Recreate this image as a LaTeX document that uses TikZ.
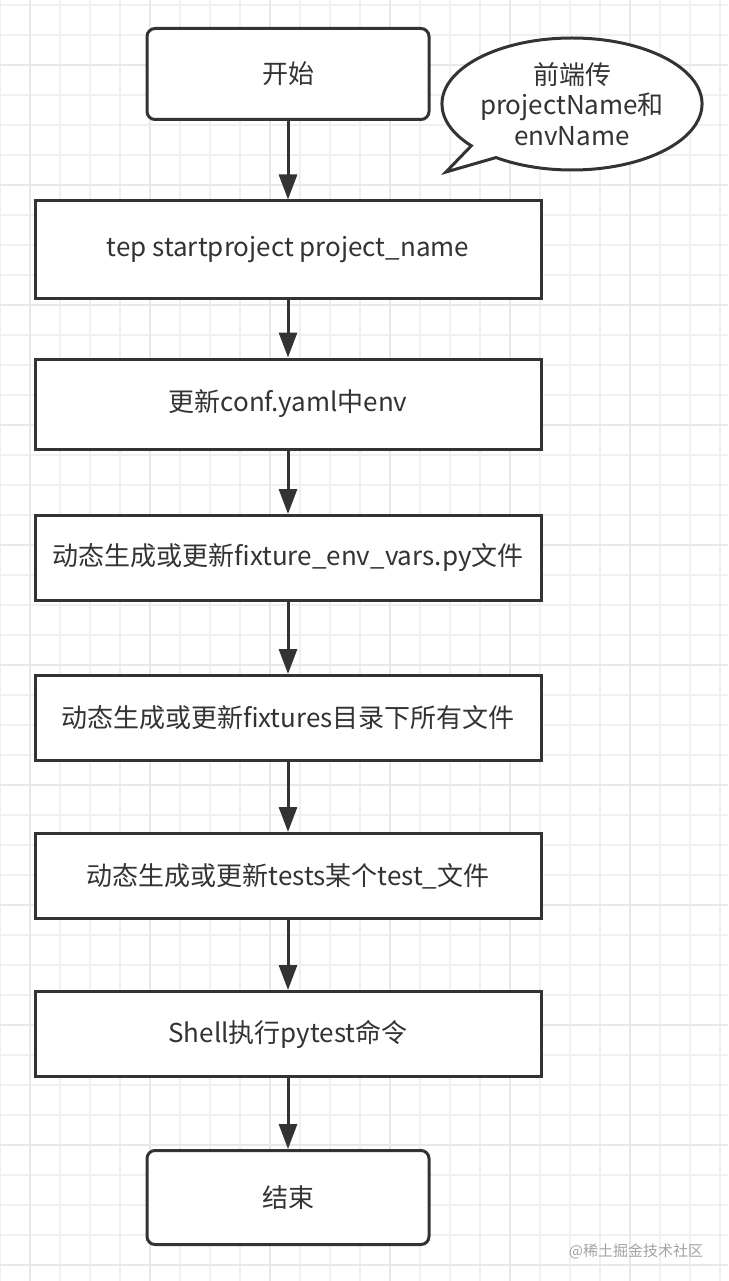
\documentclass[tikz,border=0pt]{standalone}
\usepackage{fontspec}
\setmainfont{Noto Sans CJK SC}
\usepackage{xcolor}
\usepackage{tikz}
\usetikzlibrary{arrows.meta,shapes.callouts}
\definecolor{ink}{HTML}{333333}
\definecolor{gridln}{HTML}{F0F0F0}
\definecolor{gridmj}{HTML}{E8E8E8}
\tikzset{term/.style={rectangle,rounded corners=8pt,draw=ink,line width=3pt,fill=white,text=ink,minimum width=282pt,minimum height=91pt},
    proc/.style={rectangle,draw=ink,line width=3pt,fill=white,text=ink,minimum width=506pt,minimum height=85pt},
    bub/.style={ellipse callout,draw=ink,line width=3pt,fill=white,text=ink,align=center,minimum width=254pt,minimum height=132pt,inner sep=0pt}}

\begin{document}
\begin{tikzpicture}[x=1pt,y=-1pt,>={Triangle[length=25pt,width=18pt]},every node/.style={font=\fontsize{26}{30.5}\selectfont}]
        \fill[white] (0,0) rectangle (728,1281);
        \useasboundingbox (0,0) rectangle (728,1281);
        % background grid
        \begin{scope}[yshift=-5pt]
            \draw[gridln,line width=1.5pt,step=30pt] (0,-5) grid (728,1276);
        \end{scope}
        \begin{scope}[xshift=30pt,yshift=-65pt]
            \draw[gridmj,line width=1.5pt,step=120pt] (-30,-65) grid (698,1216);
        \end{scope}

        \node[term] (st) at (288,74) {开始};
        \coordinate (tip) at (446,172);
        \node[bub,callout absolute pointer={(tip)}] (fe) at (572,104) {前端传\\projectName和\\envName};
        \node[proc,minimum height=97pt] (tep) at (288,249.5) {tep startproject project\_name};
        \node[proc,minimum height=90pt] (conf) at (288,404) {更新conf.yaml中env};
        \node[proc] (fev) at (288,558) {动态生成或更新fixture\_env\_vars.py文件};
        \node[proc] (fix) at (288,718) {动态生成或更新fixtures目录下所有文件};
        \node[proc] (tst) at (288,876) {动态生成或更新tests某个test\_文件};
        \node[proc] (sh) at (288,1034) {Shell执行pytest命令};
        \node[term,minimum height=94pt] (ed) at (288,1197.5) {结束};
        \node[text=ink!45,font=\fontsize{15}{18}\selectfont] (wm) at (636,1251) {@稀土掘金技术社区};

        \draw [->,draw=ink,fill=ink,line width=3pt] (st) -- (tep);
        \draw [->,draw=ink,fill=ink,line width=3pt] (tep) -- (conf);
        \draw [->,draw=ink,fill=ink,line width=3pt] (conf) -- (fev);
        \draw [->,draw=ink,fill=ink,line width=3pt] (fev) -- (fix);
        \draw [->,draw=ink,fill=ink,line width=3pt] (fix) -- (tst);
        \draw [->,draw=ink,fill=ink,line width=3pt] (tst) -- (sh);
        \draw [->,draw=ink,fill=ink,line width=3pt] (sh) -- (ed);
    \end{tikzpicture}
\end{document}
